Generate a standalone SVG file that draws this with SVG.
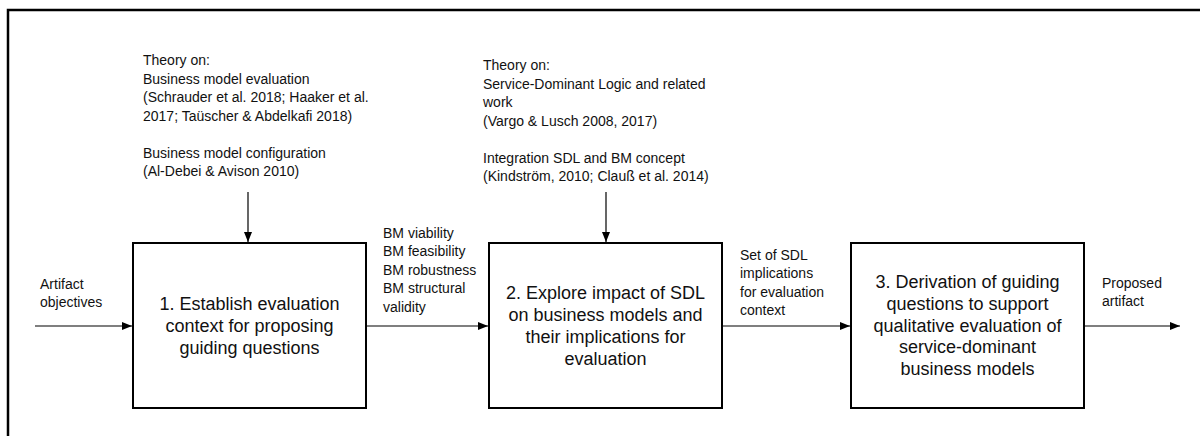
<svg xmlns="http://www.w3.org/2000/svg" width="1200" height="436" viewBox="0 0 1200 436">
<defs>
<marker id="ah" markerUnits="userSpaceOnUse" markerWidth="11" markerHeight="9" refX="10" refY="4" orient="auto">
<path d="M0,0 L10,4 L0,8 z" fill="#000"/>
</marker>
<style>
.t{font-family:"Liberation Sans",Arial,sans-serif;font-size:14px;fill:#111}
.b{font-family:"Liberation Sans",Arial,sans-serif;font-size:18px;fill:#111;text-anchor:middle}
.box{fill:#fff;stroke:#000;stroke-width:2}
.c{fill:none;stroke:#000;stroke-width:1.2;marker-end:url(#ah)}
</style>
</defs>
<rect width="1200" height="436" fill="#fff"/>
<path d="M8,437 L8,10 L1201,10" fill="none" stroke="#000" stroke-width="2.5"/>

<g id="theory1">
<text class="t" x="143" y="65">Theory on:</text>
<text class="t" x="143" y="83.5">Business model evaluation</text>
<text class="t" x="143" y="102">(Schrauder et al. 2018; Haaker et al.</text>
<text class="t" x="143" y="120.5">2017; Taüscher &amp; Abdelkafi 2018)</text>
<text class="t" x="143" y="157.5">Business model configuration</text>
<text class="t" x="143" y="176">(Al-Debei &amp; Avison 2010)</text>
</g>

<g id="theory2">
<text class="t" x="483" y="70">Theory on:</text>
<text class="t" x="483" y="88.5">Service-Dominant Logic and related</text>
<text class="t" x="483" y="107">work</text>
<text class="t" x="483" y="125.5">(Vargo &amp; Lusch 2008, 2017)</text>
<text class="t" x="483" y="162.5">Integration SDL and BM concept</text>
<text class="t" x="483" y="181">(Kindström, 2010; Clauß et al. 2014)</text>
</g>

<g id="step1">
<rect class="box" x="133" y="243" width="233" height="165"/>
<text class="b" x="249.5" y="309.5">1. Establish evaluation</text>
<text class="b" x="249.5" y="331.5">context for proposing</text>
<text class="b" x="249.5" y="353.5">guiding questions</text>
</g>

<g id="step2">
<rect class="box" x="489" y="243" width="233" height="165"/>
<text class="b" x="605.5" y="298.5">2. Explore impact of SDL</text>
<text class="b" x="605.5" y="320.5">on business models and</text>
<text class="b" x="605.5" y="342.5">their implications for</text>
<text class="b" x="605.5" y="364.5">evaluation</text>
</g>

<g id="step3">
<rect class="box" x="851" y="243" width="233" height="165"/>
<text class="b" x="967.5" y="288">3. Derivation of guiding</text>
<text class="b" x="967.5" y="309.8">questions to support</text>
<text class="b" x="967.5" y="331.5">qualitative evaluation of</text>
<text class="b" x="967.5" y="353.3">service-dominant</text>
<text class="b" x="967.5" y="375">business models</text>
</g>

<g id="connectors">
<line class="c" x1="248" y1="192" x2="248" y2="242"/>
<line class="c" x1="606" y1="192" x2="606" y2="242"/>
<line class="c" x1="35" y1="326" x2="132" y2="326"/>
<line class="c" x1="367" y1="326" x2="488" y2="326"/>
<line class="c" x1="723" y1="326" x2="850" y2="326"/>
<line class="c" x1="1085" y1="326" x2="1180" y2="326"/>
</g>

<g id="labels">
<text class="t" x="40" y="289">Artifact</text>
<text class="t" x="40" y="307">objectives</text>
<text class="t" x="383" y="237.5">BM viability</text>
<text class="t" x="383" y="256">BM feasibility</text>
<text class="t" x="383" y="274.5">BM robustness</text>
<text class="t" x="383" y="293">BM structural</text>
<text class="t" x="383" y="311.5">validity</text>
<text class="t" x="740" y="259.5">Set of SDL</text>
<text class="t" x="740" y="278">implications</text>
<text class="t" x="740" y="296.5">for evaluation</text>
<text class="t" x="740" y="315">context</text>
<text class="t" x="1102" y="288">Proposed</text>
<text class="t" x="1102" y="306">artifact</text>
</g>
</svg>
